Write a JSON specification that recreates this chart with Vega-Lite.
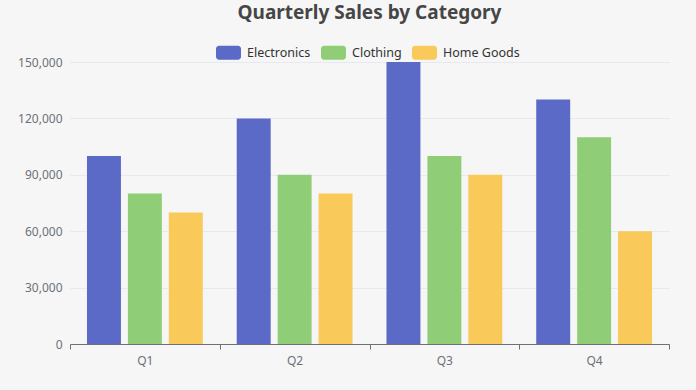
{
  "$schema": "https://vega.github.io/schema/vega-lite/v6.json",
  "autosize": {"type": "none"},
  "width": 599,
  "height": 282,
  "padding": {"left": 70, "top": 62, "right": 27, "bottom": 46},
  "background": "#f6f6f6",
  "config": {
    "font": "Noto Sans",
    "view": {"stroke": null}
  },
  "title": {
    "text": "Quarterly Sales by Category",
    "fontSize": 19,
    "fontWeight": "bold",
    "color": "#464646",
    "anchor": "middle",
    "offset": 17
  },
  "data": {
    "values": [
      {"quarter": "Q1", "category": "Electronics", "sales": 100000},
      {"quarter": "Q1", "category": "Clothing", "sales": 80000},
      {"quarter": "Q1", "category": "Home Goods", "sales": 70000},
      {"quarter": "Q2", "category": "Electronics", "sales": 120000},
      {"quarter": "Q2", "category": "Clothing", "sales": 90000},
      {"quarter": "Q2", "category": "Home Goods", "sales": 80000},
      {"quarter": "Q3", "category": "Electronics", "sales": 150000},
      {"quarter": "Q3", "category": "Clothing", "sales": 100000},
      {"quarter": "Q3", "category": "Home Goods", "sales": 90000},
      {"quarter": "Q4", "category": "Electronics", "sales": 130000},
      {"quarter": "Q4", "category": "Clothing", "sales": 110000},
      {"quarter": "Q4", "category": "Home Goods", "sales": 60000}
    ]
  },
  "mark": {"type": "bar"},
  "encoding": {
    "x": {
      "field": "quarter",
      "type": "nominal",
      "scale": {"paddingInner": 0, "paddingOuter": 0},
      "axis": {
        "title": null,
        "labelAngle": 0,
        "labelColor": "#6e7079",
        "labelFontSize": 12,
        "labelPadding": 6,
        "domainColor": "#6e7079",
        "tickColor": "#6e7079",
        "tickBand": "extent",
        "tickSize": 5,
        "grid": false
      }
    },
    "xOffset": {
      "field": "category",
      "type": "nominal",
      "sort": ["Electronics", "Clothing", "Home Goods"],
      "scale": {"paddingInner": 0.17, "paddingOuter": 0.415}
    },
    "y": {
      "field": "sales",
      "type": "quantitative",
      "scale": {"domain": [0, 150000]},
      "axis": {
        "title": null,
        "values": [0, 30000, 60000, 90000, 120000, 150000],
        "format": ",d",
        "labelColor": "#6e7079",
        "labelFontSize": 12,
        "labelPadding": 8,
        "domain": false,
        "ticks": false,
        "gridColor": "#e6e9f2",
        "gridWidth": 1
      }
    },
    "color": {
      "field": "category",
      "type": "nominal",
      "sort": ["Electronics", "Clothing", "Home Goods"],
      "scale": {
        "domain": ["Electronics", "Clothing", "Home Goods"],
        "range": ["#5a6ac6", "#8fcd77", "#f9c95a"]
      },
      "legend": {
        "title": null,
        "orient": "none",
        "direction": "horizontal",
        "legendX": 146,
        "legendY": -22,
        "symbolType": "M-0.76,-0.56 H0.76 A0.24,0.24 0 0 1 1,-0.32 V0.32 A0.24,0.24 0 0 1 0.76,0.56 H-0.76 A0.24,0.24 0 0 1 -1,0.32 V-0.32 A0.24,0.24 0 0 1 -0.76,-0.56 Z",
        "symbolSize": 625,
        "symbolStrokeWidth": 0,
        "symbolOpacity": 1,
        "labelFontSize": 12.5,
        "labelColor": "#333333",
        "labelOffset": 6,
        "columnPadding": 10
      }
    }
  }
}
